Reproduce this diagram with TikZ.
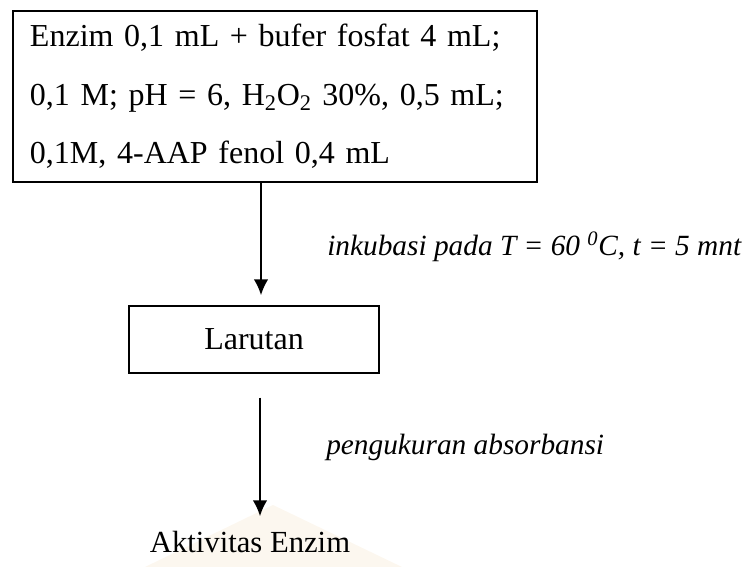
\documentclass[tikz,border=0pt]{standalone}
\usepackage{fontspec}
\setmainfont{Liberation Serif}
\usetikzlibrary{arrows.meta}

\begin{document}
\begin{tikzpicture}[x=0.75pt,y=0.75pt,yscale=-1,xscale=1,
    box/.style={draw, line width=1.1pt, inner sep=0pt},
    flowarrow/.style={draw, line width=1.5pt, -{Latex[length=12pt,width=11pt]}},
    note/.style={anchor=west, inner sep=0pt, font=\fontsize{22}{26}\selectfont\itshape}]
    %set diagram size: 751 x 567
    \useasboundingbox (0,0) rectangle (751,567);
    
    %Shape: Watermark 
    \fill [color={rgb, 255:red, 252; green, 247; blue, 239 }] (273,505) -- (402,567) -- (145,567) -- cycle ;
    
    %Shape: Rectangle 
    \node [box, minimum width=393pt, minimum height=128.25pt, text width=367.5pt, align=left, font=\fontsize{24}{44}\selectfont] (enzim) at (275,96.5) {Enzim 0,1 mL + bufer fosfat 4 mL;\\0,1 M; pH = 6, H\textsubscript{2}O\textsubscript{2} 30\%, 0,5 mL;\\0,1M, 4-AAP fenol 0,4 mL};
    %Shape: Rectangle 
    \node [box, minimum width=187.5pt, minimum height=50.25pt, font=\fontsize{24}{28}\selectfont] (larutan) at (254,339.5) {Larutan};
    
    % Text Node
    \node [note] (inkubasi) at (327,247) {inkubasi pada T = 60 \textsuperscript{0}C, t = 5 mnt};
    % Text Node
    \node [note] (ukur) at (326,447) {pengukuran absorbansi};
    % Text Node
    \node [inner sep=0pt, font=\fontsize{23}{28}\selectfont] (aktivitas) at (250,542) {Aktivitas Enzim};
    
    %Straight Lines 
    \coordinate (alur1) at (261,0);
    \coordinate (alur2) at (260,0);
    \draw [flowarrow, shorten >=7.5pt] (enzim.south -| alur1) -- (larutan.north -| alur1) ;
    %Straight Lines 
    \draw [flowarrow, shorten <=18pt, shorten >=11pt] (larutan.south -| alur2) -- (aktivitas.north -| alur2) ;
    
\end{tikzpicture}
\end{document}
